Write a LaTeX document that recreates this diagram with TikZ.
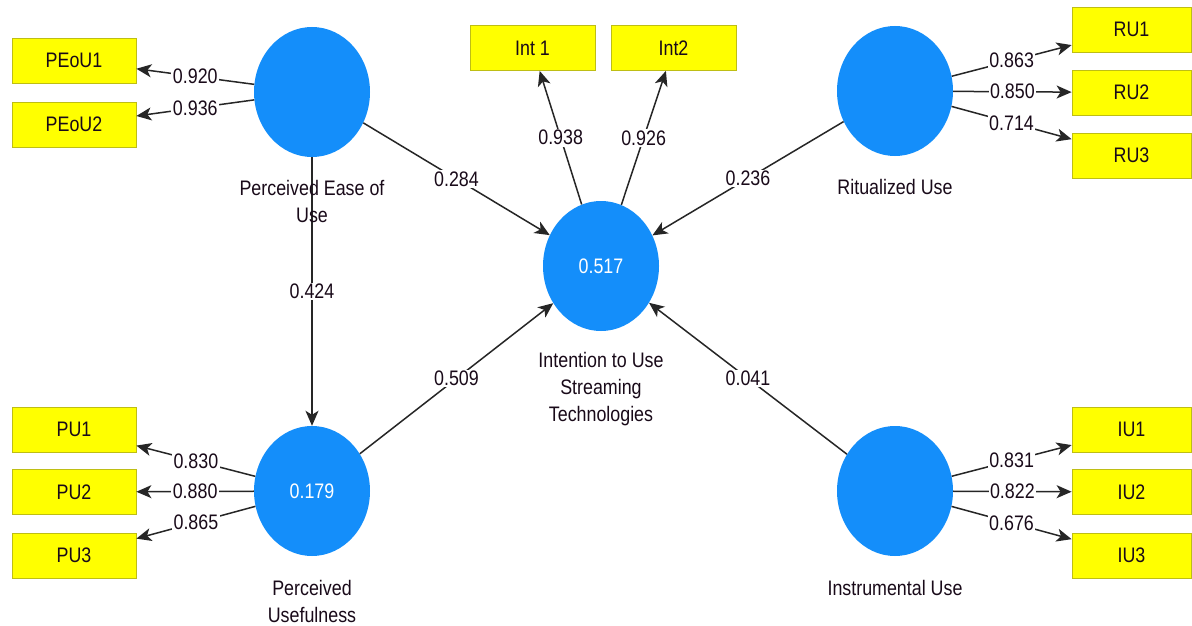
\documentclass[tikz,border=0pt]{standalone}
\usepackage{fontspec}
\setmainfont[FakeStretch=0.85]{Liberation Sans}
\usetikzlibrary{shapes.geometric,arrows.meta}
\definecolor{lvblue}{RGB}{20,142,250}
\definecolor{mvyellow}{RGB}{255,255,0}
\definecolor{mvborder}{RGB}{190,190,20}
\definecolor{txt}{RGB}{25,10,25}
\begin{document}
\begin{tikzpicture}[x=1pt,y=-1pt,
  font=\fontsize{21}{27}\selectfont,
  lv/.style={ellipse, fill=lvblue, minimum width=116pt, minimum height=130pt, inner sep=0pt, text=white},
  mv/.style={rectangle, fill=mvyellow, draw=mvborder, line width=0.8pt, minimum width=124pt, minimum height=45pt, inner sep=0pt, text=txt},
  mvr/.style={mv, minimum width=119pt},
  lbl/.style={fill=white, inner sep=1.5pt, text=txt},
  lvname/.style={align=center, text=txt},
  conn/.style={draw=black!85, line width=1.5pt, -{Stealth[length=15pt,width=13pt,inset=4pt]}}]
\useasboundingbox[fill=white] (0,0) rectangle (1192,626);
% latent variables
\node[lv] (peou) at (312,92) {};
\node[lv] (pu) at (312,491) {0.179};
\node[lv] (int) at (601,266) {0.517};
\node[lv] (ru) at (895,91) {};
\node[lv] (iu) at (895,491) {};
% indicators
\node[mv] (peou1) at (74,60.5) {PEoU1};
\node[mv] (peou2) at (74,124.5) {PEoU2};
\node[mv] (pu1) at (74,429.5) {PU1};
\node[mv] (pu2) at (74,492) {PU2};
\node[mv] (pu3) at (74,555.5) {PU3};
\node[mv, minimum width=125pt] (int1) at (532.5,48) {Int 1};
\node[mv, minimum width=125pt] (int2) at (673.5,48) {Int2};
\node[mvr] (ru1) at (1131.5,29.5) {RU1};
\node[mvr] (ru2) at (1131.5,92.5) {RU2};
\node[mvr] (ru3) at (1131.5,155.5) {RU3};
\node[mvr] (iu1) at (1131.5,429.5) {IU1};
\node[mvr] (iu2) at (1131.5,492) {IU2};
\node[mvr] (iu3) at (1131.5,555.5) {IU3};
% outer loadings
\draw[conn] (peou) -- node[lbl]{0.920} (peou1);
\draw[conn] (peou) -- node[lbl]{0.936} (peou2);
\draw[conn] (pu) -- node[lbl]{0.830} (pu1);
\draw[conn] (pu) -- node[lbl]{0.880} (pu2);
\draw[conn] (pu) -- node[lbl]{0.865} (pu3);
\draw[conn] (int) -- node[lbl]{0.938} (int1);
\draw[conn] (int) -- node[lbl]{0.926} (int2);
\draw[conn] (ru) -- node[lbl]{0.863} (ru1);
\draw[conn] (ru) -- node[lbl]{0.850} (ru2);
\draw[conn] (ru) -- node[lbl]{0.714} (ru3);
\draw[conn] (iu) -- node[lbl]{0.831} (iu1);
\draw[conn] (iu) -- node[lbl]{0.822} (iu2);
\draw[conn] (iu) -- node[lbl]{0.676} (iu3);
% path coefficients
\draw[conn] (peou) -- node[lbl]{0.424} (pu);
\draw[conn] (peou) -- node[lbl]{0.284} (int);
\draw[conn] (ru) -- node[lbl]{0.236} (int);
\draw[conn] (pu) -- node[lbl]{0.509} (int);
\draw[conn] (iu) -- node[lbl]{0.041} (int);
% construct names
\node[lvname] (peouname) at (312,201) {Perceived Ease of\\Use};
\node[lvname] (puname) at (312,601) {Perceived\\Usefulness};
\node[lvname] (intname) at (601,389) {Intention to Use\\Streaming\\Technologies};
\node[lvname] (runame) at (895,187) {Ritualized Use};
\node[lvname] (iuname) at (895,588) {Instrumental Use};
\end{tikzpicture}
\end{document}
